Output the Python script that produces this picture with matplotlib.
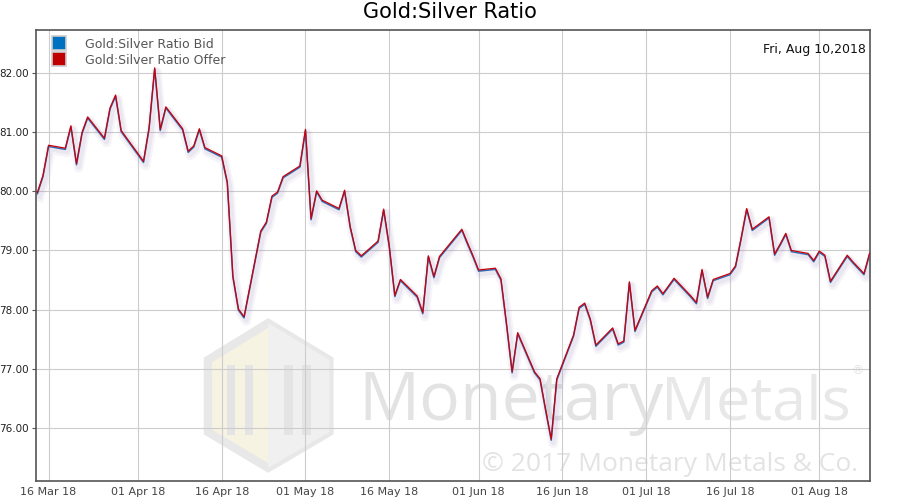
import datetime as dt
import matplotlib
matplotlib.use("Agg")
import matplotlib.pyplot as plt
import matplotlib.dates as mdates
import matplotlib.patheffects as pe
from matplotlib.lines import Line2D
from matplotlib.patches import Polygon

# trading days (2018) and ratio values
days = ["03-14", "03-15", "03-16", "03-19", "03-20", "03-21", "03-22", "03-23",
        "03-26", "03-27", "03-28", "03-29", "04-02", "04-03", "04-04", "04-05",
        "04-06", "04-09", "04-10", "04-11", "04-12", "04-13", "04-16", "04-17",
        "04-18", "04-19", "04-20", "04-23", "04-24", "04-25", "04-26", "04-27",
        "04-30", "05-01", "05-02", "05-03", "05-04", "05-07", "05-08", "05-09",
        "05-10", "05-11", "05-14", "05-15", "05-16", "05-17", "05-18", "05-21",
        "05-22", "05-23", "05-24", "05-25", "05-29", "05-30", "05-31", "06-01",
        "06-04", "06-05", "06-06", "06-07", "06-08", "06-11", "06-12", "06-13",
        "06-14", "06-15", "06-18", "06-19", "06-20", "06-21", "06-22", "06-25",
        "06-26", "06-27", "06-28", "06-29", "07-02", "07-03", "07-04", "07-05",
        "07-06", "07-09", "07-10", "07-11", "07-12", "07-13", "07-16", "07-17",
        "07-18", "07-19", "07-20", "07-23", "07-24", "07-25", "07-26", "07-27",
        "07-30", "07-31", "08-01", "08-02", "08-03", "08-06", "08-07", "08-08",
        "08-09", "08-10"]

offer = [79.98, 80.27, 80.78, 80.73, 81.11, 80.47, 81.00, 81.26,
         80.90, 81.41, 81.63, 81.03, 80.51, 81.08, 82.09, 81.05,
         81.43, 81.06, 80.68, 80.77, 81.06, 80.74, 80.60, 80.16,
         78.57, 78.01, 77.88, 79.33, 79.48, 79.92, 79.99, 80.25,
         80.43, 81.05, 79.54, 80.01, 79.85, 79.71, 80.02, 79.41,
         79.00, 78.91, 79.16, 79.70, 79.08, 78.24, 78.51, 78.23,
         77.95, 78.91, 78.56, 78.90, 79.36, 79.13, 78.91, 78.67,
         78.70, 78.52, 77.76, 76.95, 77.61, 76.95, 76.83, 76.31,
         75.81, 76.83, 77.57, 78.04, 78.11, 77.84, 77.40, 77.69,
         77.42, 77.47, 78.47, 77.65, 78.32, 78.40, 78.27, 78.40,
         78.53, 78.23, 78.12, 78.68, 78.21, 78.51, 78.61, 78.74,
         79.21, 79.71, 79.36, 79.57, 78.94, 79.11, 79.29, 79.00,
         78.95, 78.83, 78.99, 78.92, 78.48, 78.92, 78.81, 78.71,
         78.61, 78.95]

bid = [79.96, 80.25, 80.76, 80.71, 81.09, 80.45, 80.98, 81.24,
       80.88, 81.39, 81.61, 81.01, 80.49, 81.06, 82.07, 81.03,
       81.41, 81.04, 80.66, 80.75, 81.04, 80.72, 80.58, 80.14,
       78.55, 77.99, 77.86, 79.31, 79.46, 79.90, 79.97, 80.23,
       80.41, 81.03, 79.52, 79.99, 79.83, 79.69, 80.00, 79.39,
       78.98, 78.89, 79.14, 79.68, 79.06, 78.22, 78.49, 78.21,
       77.93, 78.89, 78.54, 78.88, 79.34, 79.11, 78.89, 78.65,
       78.68, 78.50, 77.74, 76.93, 77.59, 76.93, 76.81, 76.29,
       75.79, 76.81, 77.55, 78.02, 78.09, 77.82, 77.38, 77.67,
       77.40, 77.45, 78.45, 77.63, 78.30, 78.38, 78.25, 78.38,
       78.51, 78.21, 78.10, 78.66, 78.19, 78.49, 78.59, 78.72,
       79.19, 79.69, 79.34, 79.55, 78.92, 79.09, 79.27, 78.98,
       78.93, 78.81, 78.97, 78.90, 78.46, 78.90, 78.79, 78.69,
       78.59, 78.93]

yticks = [76, 77, 78, 79, 80, 81, 82]

dates = [dt.datetime.strptime("2018-" + d, "%Y-%m-%d") for d in days]

fig = plt.figure(figsize=(9, 5), dpi=100)
ax = fig.add_axes([0.04, 0.038, 0.9267, 0.902])

# watermark (behind the grid)
wm = '#e3e3e3'
ax.text(0.398, 0.16, 'Monetary', transform=fig.transFigure, fontsize=49,
        color=wm, family='Open Sans', zorder=0.5, va='baseline', ha='left')
ax.text(0.734, 0.16, 'Metals', transform=fig.transFigure, fontsize=44,
        color='#e8e8e8', family='Open Sans', zorder=0.5, va='baseline', ha='left')
ax.text(0.953, 0.258, '®', transform=fig.transFigure, fontsize=9,
        color=wm, zorder=0.5, va='center', ha='center')
ax.text(0.953, 0.058, '© 2017 Monetary Metals & Co.', transform=fig.transFigure,
        fontsize=19, color=wm, family='Open Sans', zorder=0.5, ha='right', va='baseline')
hexpts = [(0.298, 0.354), (0.366, 0.280), (0.366, 0.136), (0.298, 0.064),
          (0.231, 0.136), (0.231, 0.280)]
ax.add_patch(Polygon(hexpts, closed=True, transform=fig.transFigure,
                     facecolor='#f7f3e2', edgecolor='#e8e8e8', lw=6, zorder=0.4, clip_on=False))
ax.add_patch(Polygon([(0.298, 0.354), (0.366, 0.280), (0.366, 0.136), (0.298, 0.064)],
                     closed=True, transform=fig.transFigure, facecolor='#f0f0f0',
                     edgecolor='none', zorder=0.45, clip_on=False))
for bx in [0.252, 0.272, 0.316, 0.336]:
    ax.add_patch(Polygon([(bx, 0.27), (bx + 0.009, 0.27), (bx + 0.009, 0.13), (bx, 0.13)],
                         closed=True, transform=fig.transFigure, facecolor='#e4e4e4',
                         edgecolor='none', zorder=0.48, clip_on=False))

shadow = [pe.SimpleLineShadow(offset=(1.5, -3), shadow_color='#a898c4', alpha=0.10, linewidth=7),
          pe.SimpleLineShadow(offset=(1.5, -2.5), shadow_color='#a898c4', alpha=0.14, linewidth=4)]

ax.plot(dates, offer, color='#c00000', lw=1.2, zorder=2.5, path_effects=shadow)
ax.plot(dates, bid, color='#2f6db5', lw=1.1, zorder=2.9)
ax.plot(dates, offer, color='#c8000a', lw=0.9, zorder=3.1)

ax.set_xlim(dt.datetime(2018, 3, 13, 18), dt.datetime(2018, 8, 10, 2))
ax.set_ylim(75.1, 82.73)
ax.set_yticks(yticks)
ax.yaxis.set_major_formatter(plt.FormatStrFormatter('%.2f'))
ax.xaxis.set_major_locator(mdates.DayLocator(bymonthday=[1, 16]))
ax.xaxis.set_major_formatter(mdates.DateFormatter('%d %b %y'))
ax.tick_params(axis='x', length=0, labelsize=8, labelcolor='#444444', pad=4)
ax.tick_params(axis='y', length=3, labelsize=7.5, labelcolor='#222222', color='#555555', pad=2)
ax.grid(True, color='#cccccc', lw=0.8, zorder=1)
for s in ax.spines.values():
    s.set_color('#555555')
    s.set_linewidth(1.2)

handles = [Line2D([], [], ls='none', marker='s', markersize=10, markerfacecolor='#0070c0',
                  markeredgecolor='#cccccc', markeredgewidth=1.2),
           Line2D([], [], ls='none', marker='s', markersize=10, markerfacecolor='#c00000',
                  markeredgecolor='#cccccc', markeredgewidth=1.2)]
leg = ax.legend(handles, ['Gold:Silver Ratio Bid', 'Gold:Silver Ratio Offer'],
                loc='upper left', bbox_to_anchor=(0.008, 1.005), frameon=False, fontsize=9,
                handlelength=1.0, handletextpad=1.55, labelspacing=0.25, borderpad=0.3)
for t in leg.get_texts():
    t.set_color('#555555')

ax.text(0.995, 0.972, 'Fri, Aug 10,2018', transform=ax.transAxes, ha='right', va='top',
        fontsize=9, color='#111111')
fig.suptitle('Gold:Silver Ratio', fontsize=15, y=0.995)

fig.savefig('out.png', dpi=100)
